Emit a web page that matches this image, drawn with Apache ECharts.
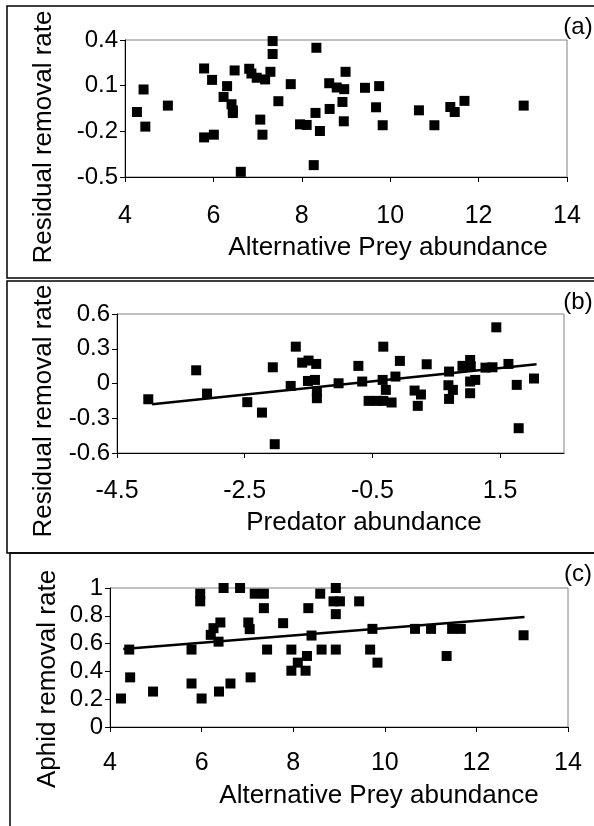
<!DOCTYPE html>
<html>
<head>
<meta charset="utf-8">
<script src="https://cdn.jsdelivr.net/npm/echarts@6/dist/echarts.min.js"></script>
<style>
  html, body { margin: 0; padding: 0; background: #fff; }
  #main { width: 594px; height: 826px; }
</style>
</head>
<body>
<div id="main"></div>
<script>
// (a) residual removal rate vs alternative prey abundance
const altPreyA = [4.27, 4.42, 4.46, 4.97, 5.79, 5.79, 5.97, 6.01, 6.23, 6.31, 6.41, 6.44, 6.44, 6.48, 6.62, 6.81, 6.86, 6.98, 7.06, 7.11, 7.17, 7.29, 7.34, 7.34, 7.47, 7.75, 7.96, 8.11, 8.31, 8.33, 8.27, 8.41, 8.62, 8.63, 8.79, 8.96, 8.99, 8.92, 8.95, 9.43, 9.75, 9.68, 9.83, 10.65, 11.00, 11.36, 11.46, 11.68, 13.02];
const residA = [-0.073, 0.075, -0.169, -0.031, 0.213, -0.240, 0.138, -0.222, 0.026, 0.097, -0.022, -0.062, -0.080, 0.200, -0.466, 0.211, 0.180, 0.152, -0.123, -0.222, 0.141, 0.191, 0.393, 0.308, -0.002, 0.110, -0.154, -0.158, -0.079, 0.349, -0.422, -0.198, 0.116, -0.053, 0.088, 0.077, 0.191, -0.007, -0.134, 0.086, 0.097, -0.042, -0.160, -0.062, -0.160, -0.040, -0.073, 0.000, -0.031];

// (b) residual removal rate vs predator abundance
const predB = [-4.01, -3.26, -3.09, -2.46, -2.23, -2.06, -2.03, -1.78, -1.70, -1.60, -1.50, -1.38, -1.51, -1.40, -1.37, -1.37, -1.03, -0.72, -0.66, -0.56, -0.43, -0.33, -0.33, -0.34, -0.29, -0.20, -0.14, -0.07, 0.16, 0.26, 0.21, 0.35, 0.70, 0.69, 0.76, 0.70, 0.91, 1.03, 1.04, 1.03, 1.11, 1.03, 1.27, 1.38, 1.44, 1.63, 1.76, 1.79, 2.03];
const residB = [-0.136, 0.114, -0.087, -0.161, -0.251, 0.140, -0.524, -0.021, 0.318, 0.180, 0.198, 0.169, 0.022, 0.031, -0.070, -0.127, 0.002, 0.152, 0.017, -0.150, -0.150, 0.318, -0.150, 0.031, -0.055, -0.164, 0.060, 0.195, -0.061, -0.095, -0.193, 0.166, 0.103, -0.015, -0.055, -0.133, 0.152, 0.203, 0.149, 0.017, 0.031, -0.084, 0.137, 0.140, 0.485, 0.169, -0.012, -0.386, 0.043];
const trendB = [[-3.95, -0.179], [2.07, 0.166]];

// (c) aphid removal rate vs alternative prey abundance
const altPreyC = [4.24, 4.42, 4.44, 4.94, 5.78, 5.78, 5.97, 5.97, 6.00, 6.20, 6.26, 6.37, 6.41, 6.38, 6.48, 6.63, 6.84, 7.02, 7.05, 7.07, 7.16, 7.36, 7.36, 7.43, 7.78, 7.96, 7.96, 8.10, 8.27, 8.30, 8.33, 8.40, 8.59, 8.62, 8.93, 8.88, 9.02, 8.93, 8.93, 9.44, 9.73, 9.68, 9.84, 10.66, 11.01, 11.35, 11.47, 11.66, 13.03];
const aphidC = [0.205, 0.557, 0.357, 0.255, 0.557, 0.313, 0.959, 0.904, 0.205, 0.663, 0.711, 0.614, 0.752, 0.255, 1.0, 0.313, 1.0, 0.752, 0.704, 0.357, 0.959, 0.959, 0.855, 0.557, 0.747, 0.557, 0.405, 0.463, 0.405, 0.511, 0.855, 0.658, 0.959, 0.557, 1.0, 0.904, 0.904, 0.812, 0.557, 0.904, 0.706, 0.557, 0.463, 0.706, 0.706, 0.511, 0.706, 0.706, 0.660];
const trendC = [[4.29, 0.562], [13.05, 0.792]];

// tick labels
const preyTicks = [4, 6, 8, 10, 12, 14];
const residTicksA = [-0.5, -0.2, 0.1, 0.4];
const predTicks = [-4.5, -2.5, -0.5, 1.5];
const residTicksB = [-0.6, -0.3, 0, 0.3, 0.6];
const aphidTicks = [0, 0.2, 0.4, 0.6, 0.8, 1];

const FONT = "'Liberation Sans', Arial, sans-serif";

function zip(xs, ys) {
    return xs.map((x, i) => [x, ys[i]]);
}

function xAxisFor(gridIndex, min, max, ticks, margin) {
    return {
        type: 'value', gridIndex: gridIndex, min: min, max: max,
        splitLine: { show: false },
        axisLine: { show: true, onZero: false, lineStyle: { color: '#000', width: 1 } },
        axisTick: { show: true, length: 5, customValues: ticks, lineStyle: { color: '#000' } },
        axisLabel: { customValues: ticks, margin: margin, color: '#000', fontSize: 25, fontFamily: FONT,
            showMinLabel: true, showMaxLabel: true }
    };
}

function yAxisFor(gridIndex, min, max, ticks) {
    return {
        type: 'value', gridIndex: gridIndex, min: min, max: max,
        splitLine: { show: false },
        axisLine: { show: true, onZero: false, lineStyle: { color: '#000', width: 1 } },
        axisTick: { show: true, length: 5, customValues: ticks, lineStyle: { color: '#000' } },
        axisLabel: { customValues: ticks, margin: 7, color: '#000', fontSize: 24, fontFamily: FONT,
            showMinLabel: true, showMaxLabel: true }
    };
}

function scatter(i, data) {
    return {
        type: 'scatter', xAxisIndex: i, yAxisIndex: i, data: data,
        symbol: 'rect', symbolSize: 10, itemStyle: { color: '#000', opacity: 1 }, silent: true
    };
}

function trend(i, data) {
    return {
        type: 'line', xAxisIndex: i, yAxisIndex: i, data: data,
        showSymbol: false, symbol: 'none', lineStyle: { color: '#000', width: 2.5 }, silent: true
    };
}

function txt(text, x, y, size, rot) {
    return {
        type: 'text', x: x, y: y, rotation: rot || 0, silent: true,
        style: { text: text, fill: '#000', font: size + 'px ' + FONT, align: 'center', verticalAlign: 'middle' }
    };
}

function box(x, y, w, h) {
    return {
        type: 'rect', shape: { x: x, y: y, width: w, height: h }, silent: true,
        style: { fill: null, stroke: '#000', lineWidth: 1.5 }
    };
}

const chart = echarts.init(document.getElementById('main'), null, { renderer: 'canvas' });

const gridStyle = { show: true, borderColor: '#808080', borderWidth: 1, backgroundColor: 'transparent' };

const option = {
    animation: false,
    backgroundColor: '#fff',
    grid: [
        Object.assign({ left: 125, top: 40, width: 442, height: 137 }, gridStyle),
        Object.assign({ left: 117, top: 314, width: 447, height: 139 }, gridStyle),
        Object.assign({ left: 110, top: 588, width: 458, height: 139 }, gridStyle)
    ],
    xAxis: [
        xAxisFor(0, 4, 14, preyTicks, 27),
        xAxisFor(1, -4.5, 2.5, predTicks, 26),
        xAxisFor(2, 4, 14, preyTicks, 24)
    ],
    yAxis: [
        yAxisFor(0, -0.5, 0.4, residTicksA),
        yAxisFor(1, -0.6, 0.6, residTicksB),
        yAxisFor(2, 0, 1, aphidTicks)
    ],
    series: [
        scatter(0, zip(altPreyA, residA)),
        scatter(1, zip(predB, residB)),
        trend(1, trendB),
        scatter(2, zip(altPreyC, aphidC)),
        trend(2, trendC)
    ],
    graphic: [
        box(7, 6, 600, 272),
        box(7, 281, 600, 272),
        box(10, 553, 600, 300),
        txt('Residual removal rate', 44, 137, 26, Math.PI / 2),
        txt('Residual removal rate', 44, 411, 26, Math.PI / 2),
        txt('Aphid removal rate', 48, 679, 26, Math.PI / 2),
        txt('Alternative Prey abundance', 388, 248, 26),
        txt('Predator abundance', 364, 523, 26),
        txt('Alternative Prey abundance', 379, 796, 26),
        txt('(a)', 578, 27, 24),
        txt('(b)', 578, 302, 24),
        txt('(c)', 578, 574, 24)
    ]
};

chart.setOption(option);
</script>
</body>
</html>
